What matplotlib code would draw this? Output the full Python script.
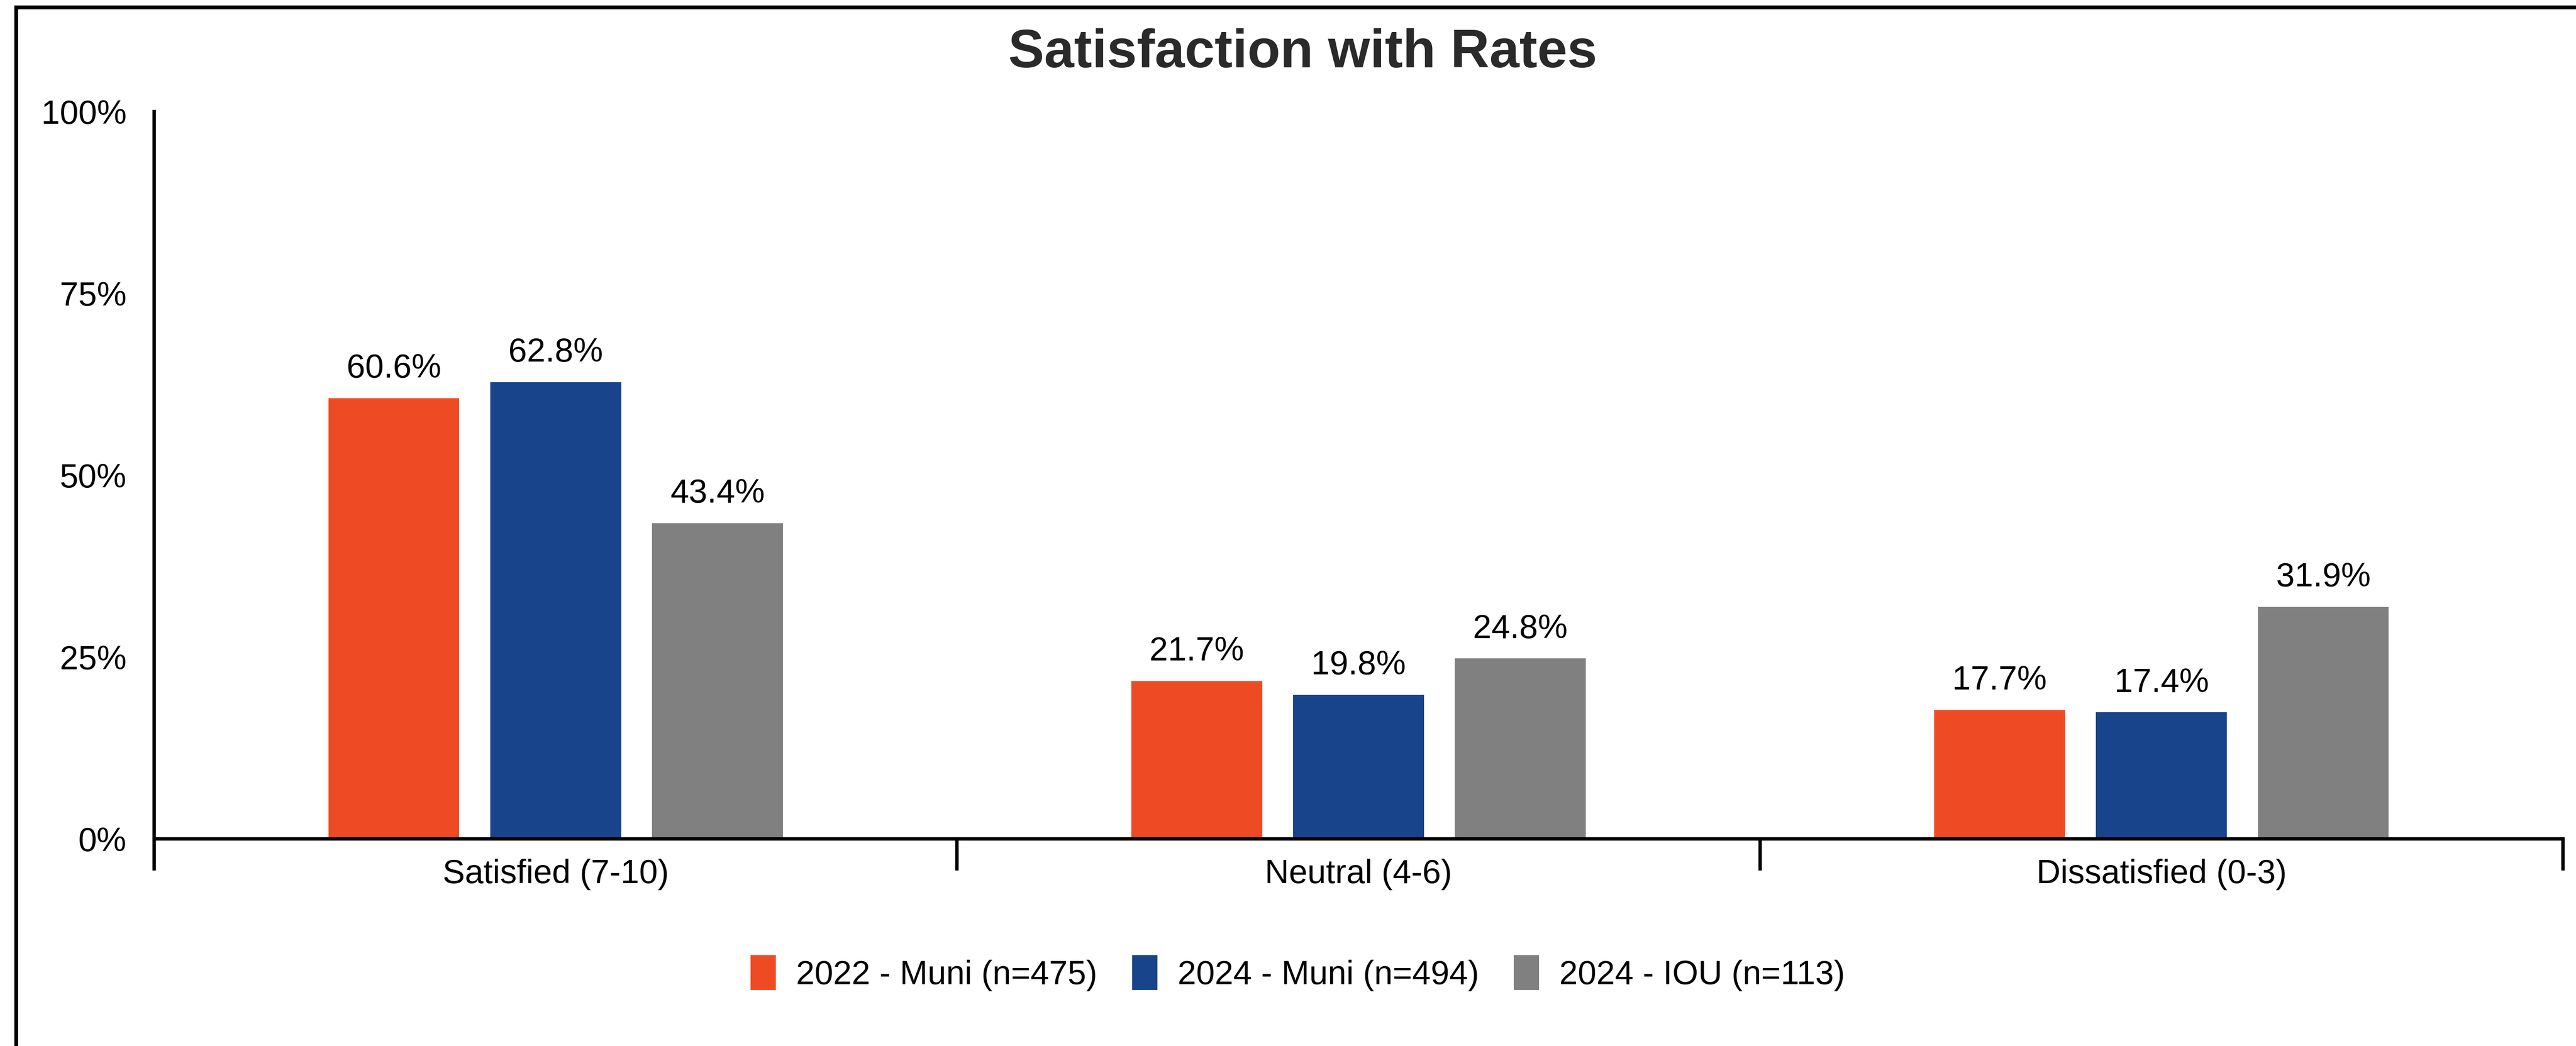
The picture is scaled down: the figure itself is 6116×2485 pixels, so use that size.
"""
Satisfaction with Rates - grouped bar chart, three survey groups.
Output: out.png
"""

import matplotlib

matplotlib.use("Agg")
import matplotlib.pyplot as plt
from matplotlib.lines import Line2D
from matplotlib.ticker import FixedLocator, PercentFormatter

plt.rcParams["font.family"] = ["Liberation Sans", "DejaVu Sans"]

CATEGORIES = ["Satisfied (7-10)", "Neutral (4-6)", "Dissatisfied (0-3)"]
SERIES_NAMES = ["2022 - Muni (n=475)", "2024 - Muni (n=494)", "2024 - IOU (n=113)"]
MUNI_2022 = [60.6, 21.7, 17.7]
MUNI_2024 = [62.8, 19.8, 17.4]
IOU_2024 = [43.4, 24.8, 31.9]
Y_TICKS = [0, 25, 50, 75, 100]

COLORS = ["#EE4B24", "#17448B", "#808080"]

W, H, DPI = 6116, 2485, 100
FS = 57          # tick / label / legend size
BAR_W = 0.163
STEP = 0.2015


def main() -> None:
    fig = plt.figure(figsize=(W / DPI, H / DPI), dpi=DPI)
    fig.patch.set_facecolor("white")

    ax = fig.add_axes([366 / W, 1 - 1993 / H, (6085 - 366) / W, (1993 - 265) / H])
    x = list(range(len(CATEGORIES)))

    series = [MUNI_2022, MUNI_2024, IOU_2024]
    for i, (vals, name, color) in enumerate(zip(series, SERIES_NAMES, COLORS)):
        pos = [c + (i - 1) * STEP for c in x]
        bars = ax.bar(pos, vals, width=BAR_W, color=color, label=name, zorder=2)
        ax.bar_label(bars, labels=[f"{v:.1f}%" for v in vals],
                     padding=23, fontsize=FS, color="black")

    ax.set_xlim(-0.5, len(CATEGORIES) - 0.5)
    ax.set_ylim(0, 100)
    ax.set_yticks(Y_TICKS)
    ax.yaxis.set_major_formatter(PercentFormatter(decimals=0))
    ax.tick_params(axis="y", length=0, pad=47, labelsize=FS, labelcolor="black")

    ax.set_xticks(x)
    ax.set_xticklabels(CATEGORIES)
    ax.xaxis.set_minor_locator(FixedLocator([b - 0.5 for b in range(len(CATEGORIES) + 1)]))
    ax.tick_params(axis="x", which="major", length=0, pad=34, labelsize=FS)
    ax.tick_params(axis="x", which="minor", length=54, width=5.8, direction="out",
                   color="black")

    for side in ["top", "right"]:
        ax.spines[side].set_visible(False)
    for side in ["left", "bottom"]:
        ax.spines[side].set_linewidth(5.8)
        ax.spines[side].set_color("black")
        ax.spines[side].set_zorder(3)

    fig.text(3093 / W, 1 - 127 / H, "Satisfaction with Rates", fontsize=92,
             fontweight="bold", color="#2a2a2a", ha="center", va="center")

    fig.legend(loc="center", bbox_to_anchor=(3081 / W, 1 - 2312 / H), ncol=3,
               frameon=False, fontsize=FS, handlelength=0.76, handleheight=1.23,
               handletextpad=0.6, columnspacing=1.05)

    # outer frame: only the left and top edges survive in the original crop
    fig.add_artist(Line2D([38 / W, 38 / W], [0, 1 - 17 / H], color="black",
                          linewidth=6.5, transform=fig.transFigure,
                          solid_capstyle="projecting"))
    fig.add_artist(Line2D([38 / W, 1], [1 - 17 / H, 1 - 17 / H], color="black",
                          linewidth=6.5, transform=fig.transFigure,
                          solid_capstyle="projecting"))

    fig.savefig("out.png", dpi=DPI, facecolor="white")
    plt.close(fig)


if __name__ == "__main__":
    main()
